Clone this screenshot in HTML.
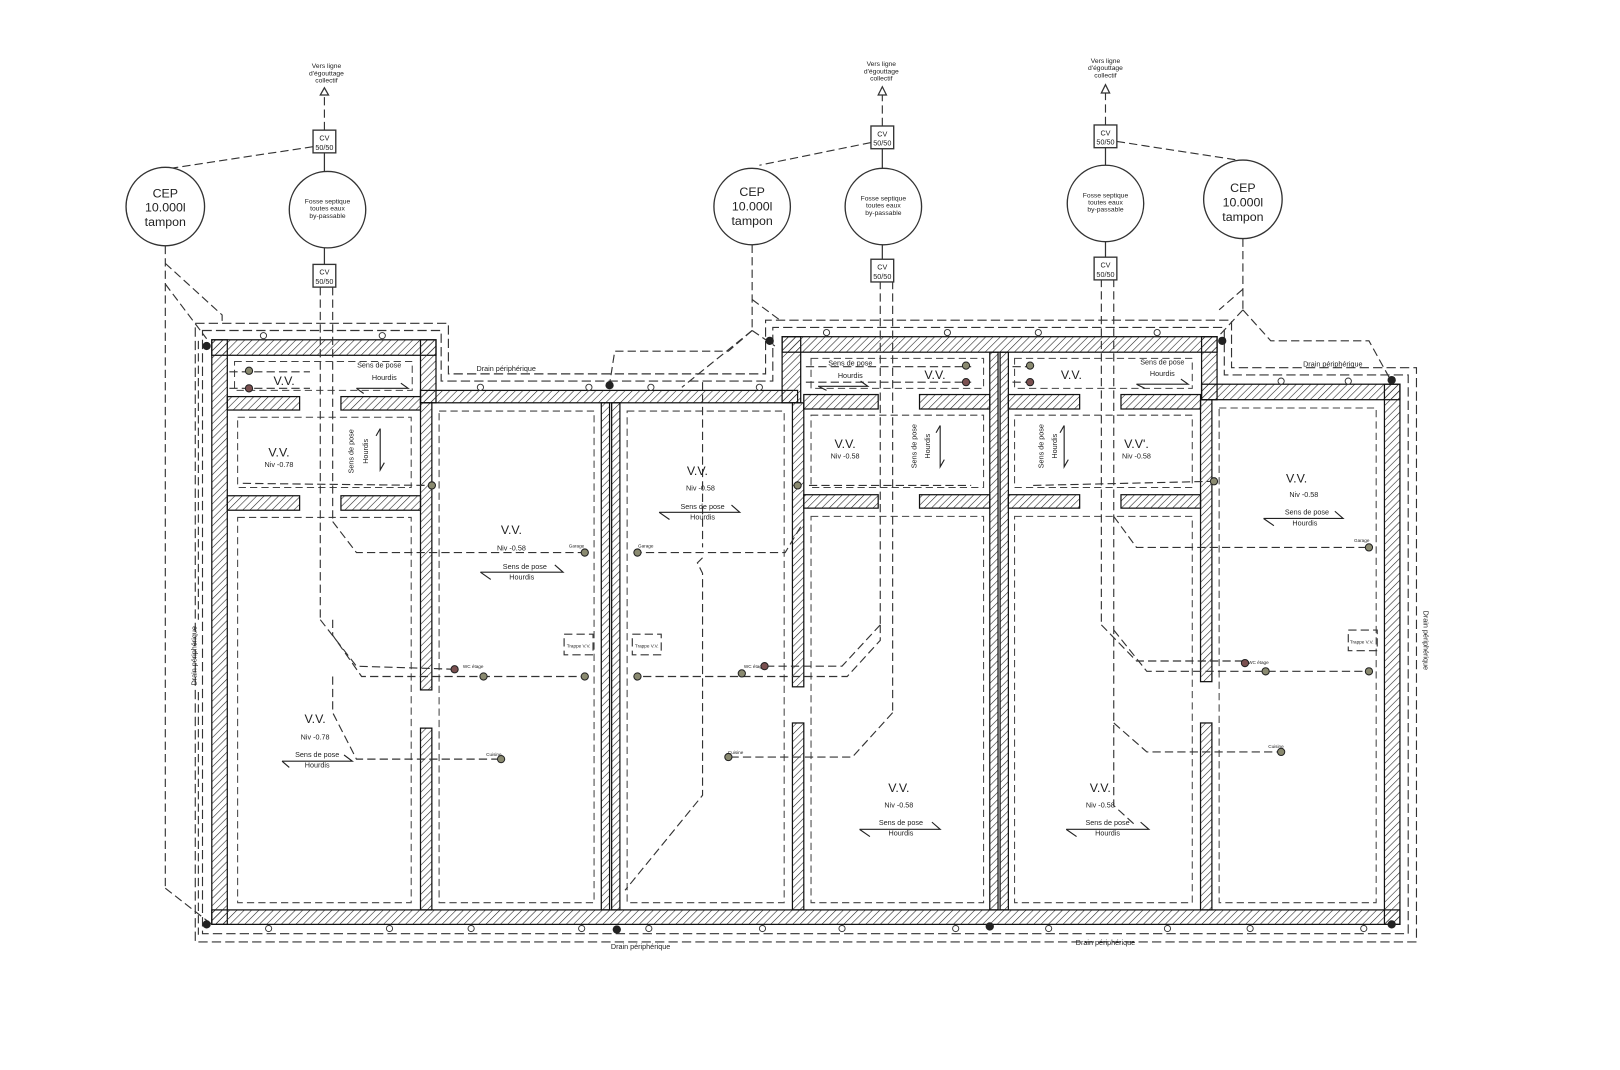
<!DOCTYPE html>
<html><head><meta charset="utf-8"><style>
html,body{margin:0;padding:0;background:#fff}
svg{display:block}
text{font-family:"Liberation Sans",sans-serif;fill:#222}
</style></head><body>
<svg width="1620" height="1070" viewBox="0 0 1568 1036" preserveAspectRatio="none" xmlns="http://www.w3.org/2000/svg">
<defs>
<pattern id="h" patternUnits="userSpaceOnUse" width="5" height="5" patternTransform="rotate(45)">
<line x1="0" y1="0" x2="0" y2="5" stroke="#222" stroke-width="1.1"/>
</pattern>
</defs>
<rect width="1568" height="1036" fill="#fff"/>

<g fill="none" stroke="#333" stroke-width="1.1" stroke-dasharray="9,4">
<polygon points="189,313 434,313 434,362 741,362 741,310 1192,310 1192,356 1371,356 1371,912 189,912"/>
<polygon points="196,320 427,320 427,369 748,369 748,317 1185,317 1185,363 1363,363 1363,904 196,904"/>
</g>

<g fill="url(#h)" stroke="#111" stroke-width="1.2">
<rect x="205" y="329" width="217" height="15"/>
<rect x="205" y="329" width="15" height="566"/>
<rect x="205" y="881" width="1150" height="14"/>
<rect x="407" y="329" width="15" height="61"/>
<rect x="407" y="378" width="365" height="12"/>
<rect x="757" y="326" width="18" height="64"/>
<rect x="757" y="326" width="421" height="15"/>
<rect x="1163" y="326" width="15" height="61"/>
<rect x="1163" y="372" width="192" height="15"/>
<rect x="1340" y="372" width="15" height="523"/>
<rect x="407" y="390" width="11" height="278"/>
<rect x="407" y="705" width="11" height="176"/>
<rect x="582" y="390" width="8" height="491"/>
<rect x="592" y="390" width="8" height="491"/>
<rect x="767" y="390" width="11" height="275"/>
<rect x="767" y="700" width="11" height="181"/>
<rect x="958" y="341" width="8" height="540"/>
<rect x="968" y="341" width="8" height="540"/>
<rect x="1162" y="387" width="11" height="273"/>
<rect x="1162" y="700" width="11" height="181"/>
<rect x="220" y="384" width="70" height="13"/>
<rect x="330" y="384" width="77" height="13"/>
<rect x="220" y="480" width="70" height="14"/>
<rect x="330" y="480" width="77" height="14"/>
<rect x="778" y="382" width="72" height="14"/>
<rect x="890" y="382" width="68" height="14"/>
<rect x="778" y="479" width="72" height="13"/>
<rect x="890" y="479" width="68" height="13"/>
<rect x="976" y="382" width="69" height="14"/>
<rect x="1085" y="382" width="77" height="14"/>
<rect x="976" y="479" width="69" height="13"/>
<rect x="1085" y="479" width="77" height="13"/>
</g>

<g fill="none" stroke="#444" stroke-width="1" stroke-dasharray="7,4">
<rect x="227" y="350" width="172" height="28"/>
<rect x="230" y="404" width="168" height="68"/>
<rect x="230" y="501" width="168" height="373"/>
<rect x="425" y="398" width="150" height="476"/>
<rect x="607" y="398" width="152" height="476"/>
<rect x="785" y="347" width="167" height="29"/>
<rect x="785" y="402" width="167" height="70"/>
<rect x="785" y="500" width="167" height="374"/>
<rect x="982" y="347" width="172" height="29"/>
<rect x="982" y="402" width="172" height="70"/>
<rect x="982" y="500" width="172" height="374"/>
<rect x="1180" y="395" width="152" height="479"/>
</g>

<g fill="none" stroke="#333" stroke-width="1.1" stroke-dasharray="8,4">
<line x1="314" y1="126" x2="314" y2="92"/>
<line x1="854" y1="122" x2="854" y2="92"/>
<line x1="1070" y1="121" x2="1070" y2="90"/>
<line x1="303" y1="142" x2="165" y2="163"/>
<line x1="843" y1="138" x2="735" y2="160"/>
<line x1="1081" y1="137" x2="1205" y2="156"/>
<line x1="160" y1="238" x2="160" y2="860"/>
<polyline points="160,860 205,895"/>
<polyline points="160,255 215,305 215,313"/>
<polyline points="160,275 200,328"/>
<line x1="192" y1="330" x2="192" y2="600"/>
<line x1="192" y1="670" x2="192" y2="905"/>
<line x1="728" y1="237" x2="728" y2="320"/>
<polyline points="728,290 755,310"/>
<polyline points="728,320 705,340 595,340 590,372"/>
<polyline points="728,320 750,335"/>
<polyline points="728,320 660,375"/>
<line x1="1203" y1="231" x2="1203" y2="300"/>
<polyline points="1203,280 1180,300"/>
<polyline points="1203,300 1180,325"/>
<polyline points="1203,300 1230,330 1325,330 1346,368"/>
<line x1="310" y1="278" x2="310" y2="600"/>
<line x1="322" y1="278" x2="322" y2="505"/>
<polyline points="322,505 345,535 565,535"/>
<polyline points="310,600 345,645 440,648"/>
<polyline points="322,600 322,615 350,655 566,655"/>
<polyline points="322,655 322,690 345,735 485,735"/>
<line x1="852" y1="272" x2="852" y2="605"/>
<line x1="864" y1="272" x2="864" y2="690"/>
<polyline points="852,605 815,645 740,645"/>
<polyline points="852,605 852,620 820,655 617,655"/>
<polyline points="775,510 760,535 617,535"/>
<polyline points="864,690 825,733 705,733"/>
<line x1="680" y1="370" x2="680" y2="530"/>
<polyline points="680,540 675,545 680,555 680,770 605,862"/>
<line x1="1066" y1="270" x2="1066" y2="605"/>
<line x1="1078" y1="270" x2="1078" y2="690"/>
<polyline points="1078,500 1100,530 1325,530"/>
<polyline points="1066,605 1100,640 1205,640"/>
<polyline points="1078,610 1110,650 1325,650"/>
<polyline points="1078,690 1078,780 1100,800"/>
<polyline points="1078,700 1110,728 1240,728"/>
<polyline points="222,360 300,360"/><polyline points="222,376 300,376"/>
<polyline points="780,355 940,355"/><polyline points="780,370 940,370"/>
<polyline points="980,355 1000,355"/><polyline points="980,370 1000,370"/>
<polyline points="235,468 415,470"/>
<polyline points="783,470 940,470"/>
<polyline points="1000,470 1175,466"/>
<rect x="546" y="614" width="28" height="20"/>
<rect x="612" y="614" width="28" height="20"/>
<rect x="1305" y="610" width="28" height="20"/>
</g>
<g stroke="#333" stroke-width="1.2" fill="none">
<line x1="314" y1="148" x2="314" y2="166"/>
<line x1="314" y1="240" x2="314" y2="256"/>
<line x1="854" y1="144" x2="854" y2="163"/>
<line x1="854" y1="237" x2="854" y2="251"/>
<line x1="1070" y1="143" x2="1070" y2="160"/>
<line x1="1070" y1="234" x2="1070" y2="249"/>
<polygon points="310,92 318,92 314,85" fill="#fff"/>
<polygon points="850,92 858,92 854,84" fill="#fff"/>
<polygon points="1066,90 1074,90 1070,82" fill="#fff"/>
</g>

<g fill="#fff" stroke="#333" stroke-width="1.3">
<circle cx="160" cy="200" r="38"/>
<circle cx="317" cy="203" r="37"/>
<circle cx="728" cy="200" r="37"/>
<circle cx="855" cy="200" r="37"/>
<circle cx="1070" cy="197" r="37"/>
<circle cx="1203" cy="193" r="38"/>
<rect x="303" y="126" width="22" height="22"/>
<rect x="303" y="256" width="22" height="22"/>
<rect x="843" y="122" width="22" height="22"/>
<rect x="843" y="251" width="22" height="22"/>
<rect x="1059" y="121" width="22" height="22"/>
<rect x="1059" y="249" width="22" height="22"/>
</g>

<g text-anchor="middle">
<g font-size="12"><text x="160" y="191">CEP</text><text x="160" y="205">10.000l</text><text x="160" y="219">tampon</text>
<text x="728" y="190">CEP</text><text x="728" y="204">10.000l</text><text x="728" y="218">tampon</text>
<text x="1203" y="186">CEP</text><text x="1203" y="200">10.000l</text><text x="1203" y="214">tampon</text></g>
<g font-size="6.5"><text x="317" y="197">Fosse septique</text><text x="317" y="204">toutes eaux</text><text x="317" y="211">by-passable</text>
<text x="855" y="194">Fosse septique</text><text x="855" y="201">toutes eaux</text><text x="855" y="208">by-passable</text>
<text x="1070" y="191">Fosse septique</text><text x="1070" y="198">toutes eaux</text><text x="1070" y="205">by-passable</text>
<text x="316" y="66">Vers ligne</text><text x="316" y="73">d'égouttage</text><text x="316" y="80">collectif</text>
<text x="853" y="64">Vers ligne</text><text x="853" y="71">d'égouttage</text><text x="853" y="78">collectif</text>
<text x="1070" y="61">Vers ligne</text><text x="1070" y="68">d'égouttage</text><text x="1070" y="75">collectif</text></g>
<g font-size="7"><text x="314" y="136">CV</text><text x="314" y="145">50/50</text>
<text x="314" y="266">CV</text><text x="314" y="275">50/50</text>
<text x="854" y="132">CV</text><text x="854" y="141">50/50</text>
<text x="854" y="261">CV</text><text x="854" y="270">50/50</text>
<text x="1070" y="131">CV</text><text x="1070" y="140">50/50</text>
<text x="1070" y="259">CV</text><text x="1070" y="268">50/50</text></g>

<g font-size="12">
<text x="275" y="373">V.V.</text><text x="270" y="442">V.V.</text><text x="305" y="700">V.V.</text>
<text x="495" y="517">V.V.</text><text x="675" y="460">V.V.</text>
<text x="905" y="367">V.V.</text><text x="818" y="434">V.V.</text><text x="870" y="767">V.V.</text>
<text x="1037" y="367">V.V.</text><text x="1100" y="434">V.V'.</text><text x="1065" y="767">V.V.</text>
<text x="1255" y="467">V.V.</text></g>
<g font-size="7">
<text x="270" y="452">Niv -0.78</text><text x="305" y="716">Niv -0.78</text>
<text x="495" y="533">Niv -0.58</text><text x="678" y="475">Niv -0.58</text>
<text x="818" y="444">Niv -0.58</text><text x="870" y="782">Niv -0.58</text>
<text x="1100" y="444">Niv -0.58</text><text x="1065" y="782">Niv -0.58</text>
<text x="1262" y="481">Niv -0.58</text>
<text x="367" y="356">Sens de pose</text><text x="372" y="368">Hourdis</text>
<text x="307" y="733">Sens de pose</text><text x="307" y="743">Hourdis</text>
<text x="508" y="551">Sens de pose</text><text x="505" y="561">Hourdis</text>
<text x="680" y="493">Sens de pose</text><text x="680" y="503">Hourdis</text>
<text x="823" y="354">Sens de pose</text><text x="823" y="366">Hourdis</text>
<text x="872" y="799">Sens de pose</text><text x="872" y="809">Hourdis</text>
<text x="1125" y="353">Sens de pose</text><text x="1125" y="364">Hourdis</text>
<text x="1072" y="799">Sens de pose</text><text x="1072" y="809">Hourdis</text>
<text x="1265" y="498">Sens de pose</text><text x="1263" y="509">Hourdis</text>
<text transform="translate(342,437) rotate(-90)">Sens de pose</text><text transform="translate(356,437) rotate(-90)">Hourdis</text>
<text transform="translate(887,432) rotate(-90)">Sens de pose</text><text transform="translate(900,432) rotate(-90)">Hourdis</text>
<text transform="translate(1010,432) rotate(-90)">Sens de pose</text><text transform="translate(1023,432) rotate(-90)">Hourdis</text>
<text x="490" y="359">Drain périphérique</text><text x="1290" y="355">Drain périphérique</text>
<text x="620" y="919">Drain périphérique</text><text x="1070" y="915">Drain périphérique</text>
<text transform="translate(190,635) rotate(-90)">Drain périphérique</text>
<text transform="translate(1378,620) rotate(90)">Drain périphérique</text>
</g>
<g font-size="4.5">
<text x="558" y="530">Garage</text><text x="625" y="530">Garage</text><text x="1318" y="525">Garage</text>
<text x="478" y="732">Cuisine</text><text x="712" y="730">Cuisine</text><text x="1235" y="724">Cuisine</text>
<text x="458" y="647">WC étage</text><text x="730" y="647">WC étage</text><text x="1218" y="643">WC étage</text>
<text x="560" y="627">Trappe V.V.</text><text x="626" y="627">Trappe V.V.</text><text x="1318" y="623">Trappe V.V.</text>
</g>
</g>

<g stroke="#222" stroke-width="1.1" fill="none">
<polyline points="345,376 395,376 388,371"/><polyline points="345,376 352,381"/>
<polyline points="273,737 341,737 333,731"/><polyline points="273,737 280,743"/>
<polyline points="465,554 545,554 537,547"/><polyline points="465,554 475,561"/>
<polyline points="638,496 716,496 708,489"/><polyline points="638,496 648,503"/>
<polyline points="792,374 840,374 833,369"/><polyline points="792,374 800,378"/>
<polyline points="832,803 910,803 902,796"/><polyline points="832,803 842,810"/>
<polyline points="1100,372 1150,372 1143,367"/><polyline points="1100,372 1108,376"/>
<polyline points="1032,803 1112,803 1104,796"/><polyline points="1032,803 1042,810"/>
<polyline points="1223,502 1300,502 1292,495"/><polyline points="1223,502 1233,509"/>
<polyline points="368,415 368,455 372,448"/><polyline points="368,415 364,422"/>
<polyline points="910,412 910,452 914,445"/><polyline points="910,412 906,419"/>
<polyline points="1030,412 1030,452 1034,445"/><polyline points="1030,412 1026,419"/>
</g>

<g stroke="#222" stroke-width="1" fill="#8a8a70">
<circle cx="241" cy="359" r="3.5"/><circle cx="241" cy="376" r="3.5" fill="#7a5050"/>
<circle cx="935" cy="354" r="3.5"/><circle cx="935" cy="370" r="3.5" fill="#7a5050"/>
<circle cx="997" cy="354" r="3.5"/><circle cx="997" cy="370" r="3.5" fill="#7a5050"/>
<circle cx="418" cy="470" r="3.5"/><circle cx="772" cy="470" r="3.5"/><circle cx="1175" cy="466" r="3.5"/>
<circle cx="566" cy="535" r="3.5"/><circle cx="617" cy="535" r="3.5"/><circle cx="1325" cy="530" r="3.5"/>
<circle cx="440" cy="648" r="3.5" fill="#7a5050"/><circle cx="468" cy="655" r="3.5"/><circle cx="566" cy="655" r="3.5"/>
<circle cx="617" cy="655" r="3.5"/><circle cx="718" cy="652" r="3.5"/><circle cx="740" cy="645" r="3.5" fill="#7a5050"/>
<circle cx="1205" cy="642" r="3.5" fill="#7a5050"/><circle cx="1225" cy="650" r="3.5"/><circle cx="1325" cy="650" r="3.5"/>
<circle cx="485" cy="735" r="3.5"/><circle cx="705" cy="733" r="3.5"/><circle cx="1240" cy="728" r="3.5"/>
</g>
<g fill="#222">
<circle cx="200" cy="335" r="4"/><circle cx="200" cy="895" r="4"/><circle cx="590" cy="373" r="4"/>
<circle cx="745" cy="330" r="4"/><circle cx="1183" cy="330" r="4"/><circle cx="1347" cy="368" r="4"/>
<circle cx="1347" cy="895" r="4"/><circle cx="597" cy="900" r="4"/><circle cx="958" cy="897" r="4"/>
</g>
<g fill="#fff" stroke="#333" stroke-width="0.9">
<circle cx="255" cy="325" r="3"/><circle cx="370" cy="325" r="3"/><circle cx="465" cy="375" r="3"/><circle cx="570" cy="375" r="3"/>
<circle cx="630" cy="375" r="3"/><circle cx="735" cy="375" r="3"/><circle cx="800" cy="322" r="3"/><circle cx="917" cy="322" r="3"/>
<circle cx="1005" cy="322" r="3"/><circle cx="1120" cy="322" r="3"/><circle cx="1240" cy="369" r="3"/><circle cx="1305" cy="369" r="3"/>
<circle cx="260" cy="899" r="3"/><circle cx="377" cy="899" r="3"/><circle cx="456" cy="899" r="3"/><circle cx="563" cy="899" r="3"/>
<circle cx="628" cy="899" r="3"/><circle cx="738" cy="899" r="3"/><circle cx="815" cy="899" r="3"/><circle cx="925" cy="899" r="3"/>
<circle cx="1015" cy="899" r="3"/><circle cx="1130" cy="899" r="3"/><circle cx="1210" cy="899" r="3"/><circle cx="1320" cy="899" r="3"/>
</g>
</svg>
</body></html>
